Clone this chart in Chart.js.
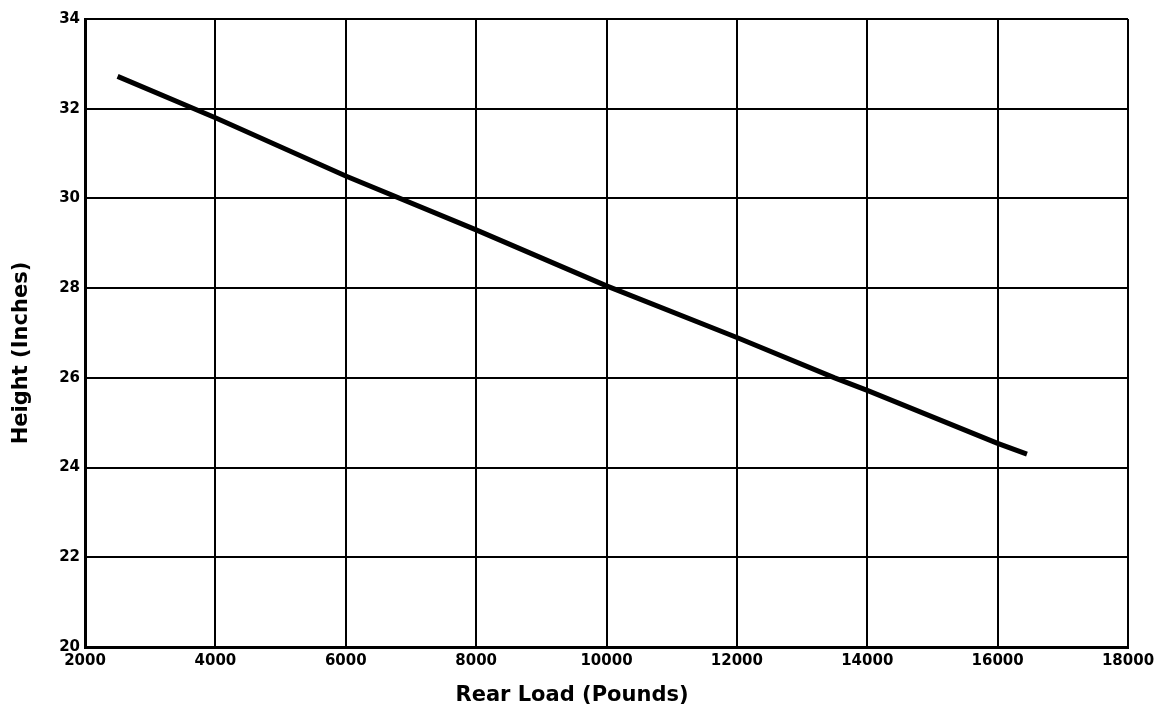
<!DOCTYPE html>
<html>
<head>
<meta charset="utf-8">
<script src="https://cdn.jsdelivr.net/npm/chart.js@4/dist/chart.umd.min.js"></script>
<style>
html,body{margin:0;padding:0;background:#fff;}
#wrap{width:1156px;height:710px;position:relative;}
</style>
</head>
<body>
<div id="wrap"><canvas id="c" width="1156" height="710"></canvas></div>
<script>
const loadPounds = [2500, 4000, 6000, 8000, 10000, 12000, 13500, 14000, 16000, 16450];
const heightInches = [32.72, 31.8, 30.5, 29.3, 28.05, 26.9, 26.0, 25.72, 24.54, 24.3];
const xTicks = [2000, 4000, 6000, 8000, 10000, 12000, 14000, 16000, 18000];
const yTicks = [20, 22, 24, 26, 28, 30, 32, 34];
const xTitle = 'Rear Load (Pounds)';
const yTitle = 'Height (Inches)';

const points = loadPounds.map((x, i) => ({x: x, y: heightInches[i]}));
const fontFam = '"DejaVu Sans", Arial, Helvetica, sans-serif';

const titlePlugin = {
  id: 'axisTitles',
  afterDraw(chart) {
    const ctx = chart.ctx;
    ctx.save();
    ctx.fillStyle = '#000';
    ctx.textAlign = 'center';
    ctx.textBaseline = 'middle';
    ctx.font = 'bold 21px ' + fontFam;
    ctx.fillText(xTitle, 572, 696);
    ctx.translate(22, 353);
    ctx.rotate(-Math.PI / 2);
    ctx.font = 'bold 21px ' + fontFam;
    ctx.fillText(yTitle, 0, 0);
    ctx.restore();
  }
};

new Chart(document.getElementById('c'), {
  type: 'scatter',
  data: {
    datasets: [{
      data: points,
      showLine: true,
      borderColor: '#000',
      borderWidth: 5,
      pointRadius: 0,
      tension: 0,
      borderCapStyle: 'butt'
    }]
  },
  options: {
    responsive: false,
    animation: false,
    devicePixelRatio: 1,
    layout: {padding: {left: 4, right: 28, top: 19, bottom: 0}},
    plugins: {legend: {display: false}, tooltip: {enabled: false}},
    scales: {
      x: {
        type: 'linear',
        min: xTicks[0], max: xTicks[xTicks.length - 1],
        afterBuildTicks: s => { s.ticks = xTicks.map(v => ({value: v})); },
        afterFit: s => { s.height = 63; s.paddingLeft = 0; s.paddingRight = 0; },
        grid: {color: '#000', lineWidth: 2, drawTicks: false},
        border: {color: '#000', width: 3},
        ticks: {color: '#000', padding: 5, maxRotation: 0, font: {family: fontFam, weight: 'bold', size: 15}, callback: v => String(v)}
      },
      y: {
        type: 'linear',
        min: yTicks[0], max: yTicks[yTicks.length - 1],
        afterBuildTicks: s => { s.ticks = yTicks.map(v => ({value: v})); },
        afterFit: s => { s.width = 81; },
        grid: {color: '#000', lineWidth: 2, drawTicks: false},
        border: {color: '#000', width: 3},
        ticks: {color: '#000', padding: 5, font: {family: fontFam, weight: 'bold', size: 15}, callback: v => String(v)}
      }
    }
  },
  plugins: [titlePlugin]
});
</script>
</body>
</html>
